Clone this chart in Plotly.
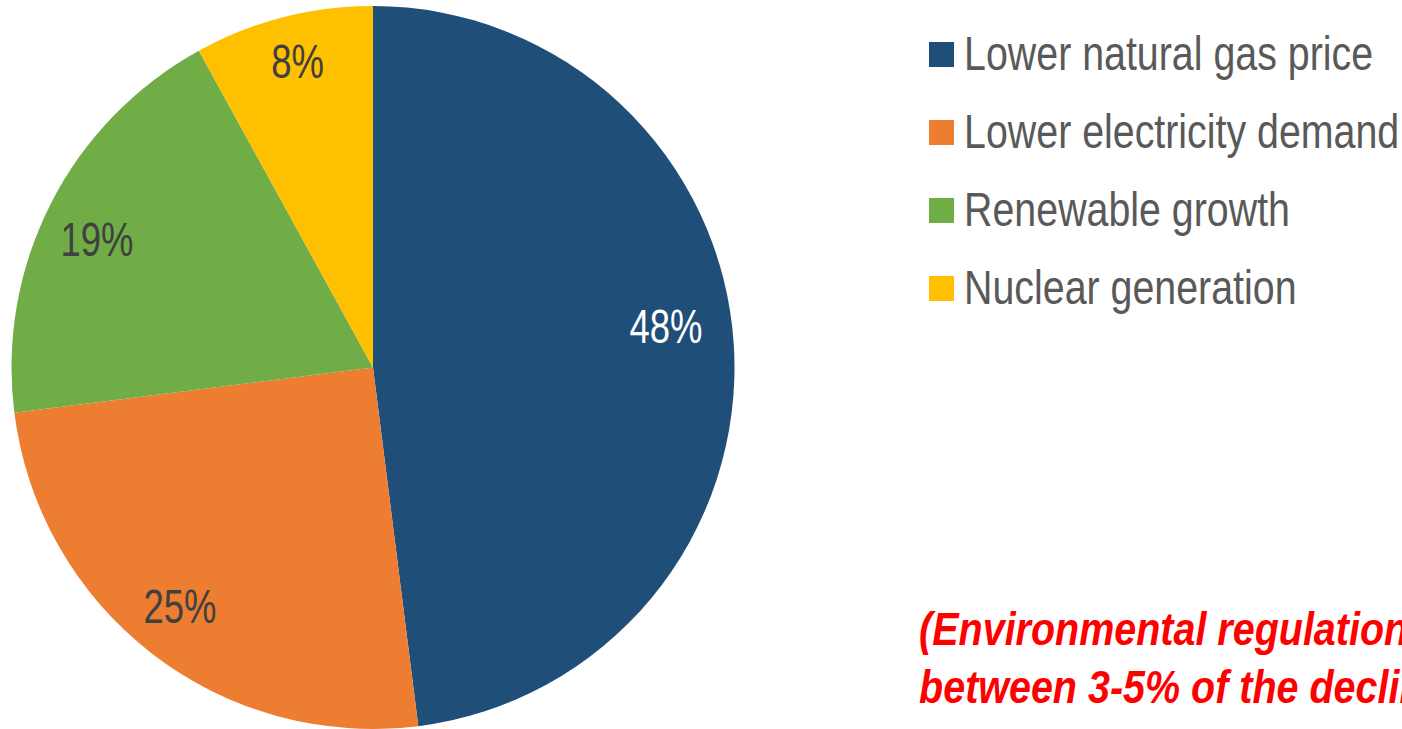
import json
import numpy as np
import plotly.graph_objects as go

labels = ["Lower natural gas price", "Lower electricity demand", "Renewable growth", "Nuclear generation"]
values = [48, 25, 19, 8]
colors = ["#1F4E79", "#ED7D31", "#70AD47", "#FFC000"]
label_colors = ["#FFFFFF", "#404040", "#404040", "#404040"]
note_lines = ["(Environmental regulations accounted for", "between 3-5% of the decline)"]

# label placement style (angle nudge in degrees, radius as fraction of pie radius)
label_nudge = [-4.4, 1.1, -2.1, 0.5]
label_rfrac = [0.818, 0.848, 0.84, 0.873]

W, H = 1402, 729
FONT = "Liberation Sans, Arial, sans-serif"

cx, cy, R = 373, 368, 362  # pixel geometry of pie
dom_x = [(cx - R) / W, (cx + R) / W]
dom_y = [0, (2 * R - 1) / H]

fig = go.Figure(go.Pie(
    labels=labels, values=values, sort=False, direction="clockwise", rotation=0,
    marker=dict(colors=colors, line=dict(width=0)),
    textinfo="none", hoverinfo="label+percent", showlegend=False,
    domain=dict(x=dom_x, y=dom_y),
))

annotations = []
squeeze = []  # (x-scale, anchor) per annotation, applied to emulate a narrow font
tot = sum(values)
cum = 0
for i, (v, c) in enumerate(zip(values, label_colors)):
    mid = np.deg2rad((cum + v / 2) / tot * 360 + label_nudge[i])
    cum += v
    r = label_rfrac[i] * R
    px = cx + r * np.sin(mid)
    py = cy - r * np.cos(mid)
    annotations.append(dict(
        x=px / W, y=1 - py / H, xref="paper", yref="paper",
        text=f"{round(v / tot * 100)}%", showarrow=False,
        font=dict(family=FONT, size=48, color=c), xanchor="center", yanchor="middle",
    ))
    squeeze.append([0.76, "center"])

shapes = []
y0, dy = 54.5, 78
for i, (lab, col) in enumerate(zip(labels, colors)):
    yc = y0 + i * dy
    shapes.append(dict(type="rect", xref="paper", yref="paper",
                       x0=929 / W, x1=954 / W, y0=1 - (yc + 12.5) / H, y1=1 - (yc - 12.5) / H,
                       fillcolor=col, line=dict(width=0)))
    annotations.append(dict(x=962 / W, y=1 - (yc - 1) / H, xref="paper", yref="paper",
                            text=lab, showarrow=False, xanchor="left", yanchor="middle",
                            font=dict(family=FONT, size=48, color="#595959")))
    squeeze.append([0.82, "left"])

for j, line in enumerate(note_lines):
    annotations.append(dict(x=917 / W, y=1 - (628 + j * 58) / H, xref="paper", yref="paper",
                            text=f"<b><i>{line}</i></b>", showarrow=False,
                            xanchor="left", yanchor="middle",
                            font=dict(family=FONT, size=47, color="#FF0000")))
    squeeze.append([0.84, "left"])

fig.update_layout(
    width=W, height=H, margin=dict(l=0, r=0, t=0, b=0),
    paper_bgcolor="white", plot_bgcolor="white",
    annotations=annotations, shapes=shapes,
)

post = """
var gd = document.getElementById('{plot_id}');
var cfg = %s;
function squeezeText(){
  gd.querySelectorAll('g.annotation').forEach(function(g){
    var i = +g.getAttribute('data-index');
    var t = g.querySelector('text.annotation-text');
    if(!t || t.getAttribute('data-sq')) return;
    var c = cfg[i]; if(!c) return;
    var b = t.getBBox();
    var ax = c[1] === 'left' ? b.x : b.x + b.width / 2;
    t.setAttribute('transform', 'translate(' + ax + ',0) scale(' + c[0] + ',1) translate(' + (-ax) + ',0)');
    t.setAttribute('data-sq', '1');
  });
}
squeezeText();
gd.on('plotly_afterplot', squeezeText);
""" % json.dumps(squeeze)

fig.write_html("out.html", post_script=post)
